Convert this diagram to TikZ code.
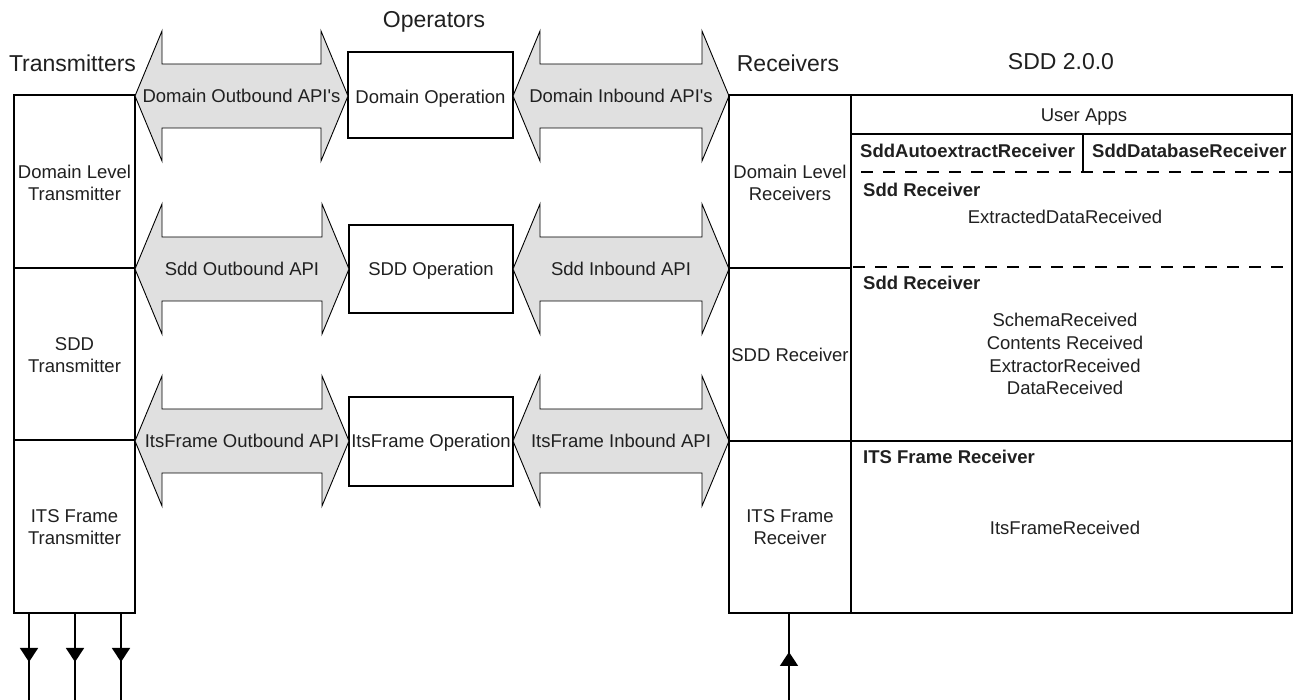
\documentclass[tikz,border=0pt]{standalone}
\usepackage{fontspec}
\defaultfontfeatures[\rmfamily]{}
\setmainfont{Liberation Sans}
\usetikzlibrary{arrows.meta,decorations.markings}
\definecolor{apigray}{HTML}{E0E0E0}
\definecolor{ink}{HTML}{202020}
\newcommand\apiarrow[5]{%
  \draw[api] (#1,#3) -- (#1+27,#3-65) -- (#1+27,#3-32) -- (#2-27,#3-32) -- (#2-27,#3-65)
    -- (#2,#3) -- (#2-27,#3+65) -- (#2-27,#3+32) -- (#1+27,#3+32) -- (#1+27,#3+65) -- cycle;
  \node[lbl, anchor=base] (#4) at ({(#1+#2)/2},#3+7) {#5};}
\begin{document}
\begin{tikzpicture}[x=1pt,y=-1pt,
  lbl/.style={font=\fontsize{18.5}{22}\selectfont, text=ink, inner sep=0pt, align=center},
  hdr/.style={font=\fontsize{23}{27}\selectfont, text=ink, inner sep=0pt, anchor=base},
  bld/.style={font=\fontsize{18.5}{22}\selectfont\bfseries, text=ink, inner sep=0pt, anchor=base west},
  frame/.style={draw=black, line width=1.3pt, inner sep=0pt},
  rule/.style={draw=black, line width=1.2pt},
  dsh/.style={draw=black, line width=1.2pt, dash pattern=on 12pt off 10pt},
  api/.style={draw=black, line width=0.9pt, fill=apigray, line join=miter},
  conn/.style={draw=black, line width=1.6pt},
  tipdown/.style={postaction={decorate}, decoration={markings, mark=at position 0.563 with {\arrow{Triangle[width=18pt,length=14pt]}}}},
  tipup/.style={postaction={decorate}, decoration={markings, mark=at position 0.552 with {\arrow{Triangle[width=18pt,length=14pt]}}}}
]
\useasboundingbox[fill=white] (0,0) rectangle (1294,700);

% headings
\node[hdr] (htx) at (72.5,72) {Transmitters};
\node[hdr] (hop) at (434,28) {Operators};
\node[hdr] (hrx) at (788,72) {Receivers};
\node[hdr] (hsdd) at (1061,70) {SDD 2.0.0};

% transmitter column
\draw[frame] (14,95) rectangle (135,613);
\draw[rule] (14,268) -- (135,268);
\draw[rule] (14,440) -- (135,440);
\node[lbl] (tx1) at (74.5,182.5) {Domain Level\\Transmitter};
\node[lbl] (tx2) at (74.5,355) {SDD\\Transmitter};
\node[lbl] (tx3) at (74.5,527) {ITS Frame\\Transmitter};

% operation boxes
\draw[frame] (348,52) rectangle (513,138);
\node[lbl, anchor=base] (op1) at (430.5,103.5) {Domain Operation};
\draw[frame] (349,225) rectangle (513,313);
\node[lbl, anchor=base] (op2) at (431,276) {SDD Operation};
\draw[frame] (349,397) rectangle (513,486);
\node[lbl, anchor=base] (op3) at (431,448) {ItsFrame Operation};

% API double arrows
\apiarrow{135}{348}{96}{out1}{Domain Outbound API's}
\apiarrow{513}{729}{96}{in1}{Domain Inbound API's}
\apiarrow{135}{349}{269}{out2}{Sdd Outbound API}
\apiarrow{513}{729}{269}{in2}{Sdd Inbound API}
\apiarrow{135}{349}{441}{out3}{ItsFrame Outbound API}
\apiarrow{513}{729}{441}{in3}{ItsFrame Inbound API}

% receiver frame
\draw[frame] (729,95) rectangle (1292,613);
\draw[rule] (851,95) -- (851,613);
\draw[rule] (729,268) -- (851,268);
\draw[rule] (729,441) -- (1292,441);
\draw[rule] (851,134) -- (1292,134);
\draw[rule] (1083,134) -- (1083,172);
\draw[dsh] (861,172) -- (1292,172);
\draw[dsh] (853,267) -- (1292,267);

\node[lbl] (rx1) at (790,182.5) {Domain Level\\Receivers};
\node[lbl] (rx2) at (790,355) {SDD Receiver};
\node[lbl] (rx3) at (790,527) {ITS Frame\\Receiver};

\node[lbl, anchor=base] (apps) at (1084,122) {User Apps};
\node[bld] (auto) at (860,158) {SddAutoextractReceiver};
\node[bld] (dbr) at (1092,158) {SddDatabaseReceiver};
\node[bld] (sddr1) at (863,197) {Sdd Receiver};
\node[lbl, anchor=base] (edr) at (1065,224) {ExtractedDataReceived};
\node[bld] (sddr2) at (863,290) {Sdd Receiver};
\node[lbl, anchor=base] (ev1) at (1065,327) {SchemaReceived};
\node[lbl, anchor=base] (ev2) at (1065,350) {Contents Received};
\node[lbl, anchor=base] (ev3) at (1065,373) {ExtractorReceived};
\node[lbl, anchor=base] (ev4) at (1065,395) {DataReceived};
\node[bld] (itsr) at (863,464) {ITS Frame Receiver};
\node[lbl, anchor=base] (ifr) at (1065,535) {ItsFrameReceived};

% external connectors
\coordinate (o1) at (29,613);  \coordinate (e1) at (29,700);
\coordinate (o2) at (75,613);  \coordinate (e2) at (75,700);
\coordinate (o3) at (121,613); \coordinate (e3) at (121,700);
\coordinate (ri) at (789,700); \coordinate (rt) at (789,613);
\draw[conn, tipdown] (o1) -- (e1);
\draw[conn, tipdown] (o2) -- (e2);
\draw[conn, tipdown] (o3) -- (e3);
\draw[conn, tipup] (ri) -- (rt);
\end{tikzpicture}
\end{document}
